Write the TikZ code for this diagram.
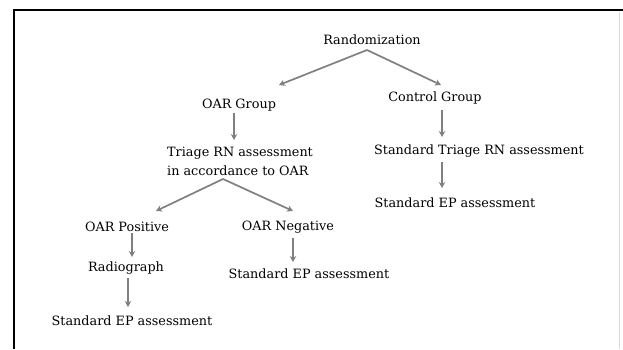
\documentclass[tikz,border=0pt]{standalone}
\usepackage{fontspec}
\setmainfont{DejaVu Serif}
\usetikzlibrary{arrows.meta}
\begin{document}
\begin{tikzpicture}[x=1pt,y=-1pt,
  lbl/.style={inner sep=0pt, font=\fontsize{12.8}{19}\selectfont, text=black},
  arr/.style={draw=black!50, line width=1.7pt, -{Stealth[length=6pt,width=6.5pt]}}]
\useasboundingbox (0,0) rectangle (623,349);
\fill[white] (0,0) rectangle (623,349);
% frame
\draw[line width=2pt] (14,349) -- (14,10) -- (623,10);
\draw[black!15, line width=1pt] (619,12) -- (619,349);
% nodes
\node[lbl] (rand) at (372,40) {Randomization};
\node[lbl] (oarg) at (239,105) {OAR Group};
\node[lbl] (ctrl) at (435,98) {Control Group};
\node[lbl, align=left, anchor=west] (triage) at (167,161.5) {Triage RN assessment\\in accordance to OAR};
\node[lbl] (stri) at (479,151) {Standard Triage RN assessment};
\node[lbl] (sepr) at (455,203) {Standard EP assessment};
\node[lbl] (pos) at (127,227) {OAR Positive};
\node[lbl] (neg) at (288,227) {OAR Negative};
\node[lbl] (radio) at (126,268) {Radiograph};
\node[lbl] (sepm) at (309,274) {Standard EP assessment};
\node[lbl] (sepl) at (132,321) {Standard EP assessment};
% connector points
\coordinate (ra) at (367,50);
\coordinate (ta) at (223,179);
% connectors
\draw[arr] (ra) -- (279,85);
\draw[arr] (ra) -- (441,85);
\draw[arr] (234,113) -- (234,140);
\draw[arr] (442,110) -- (442,137);
\draw[arr] (442,162) -- (442,188);
\draw[arr] (ta) -- (156,211);
\draw[arr] (ta) -- (293,211);
\draw[arr] (132,233) -- (132,257);
\draw[arr] (128,278) -- (128,307);
\draw[arr] (293,238) -- (293,262);
\end{tikzpicture}
\end{document}
